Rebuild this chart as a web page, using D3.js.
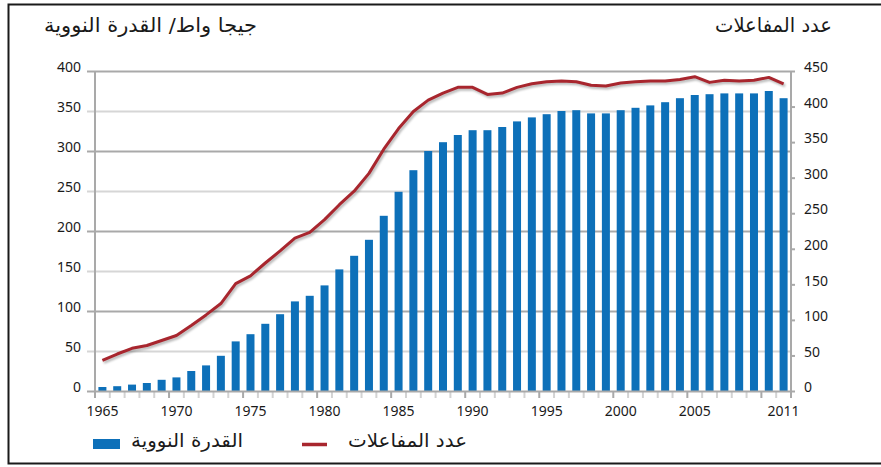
<!DOCTYPE html>
<html>
<head>
<meta charset="utf-8">
<script src="https://cdn.jsdelivr.net/npm/d3@7"></script>
<style>
  body { margin: 0; background: #fff; }
  svg { display: block; }
</style>
</head>
<body>
<script>
// chart data
var years = [1965, 1966, 1967, 1968, 1969, 1970, 1971, 1972, 1973, 1974,
  1975, 1976, 1977, 1978, 1979, 1980, 1981, 1982, 1983, 1984,
  1985, 1986, 1987, 1988, 1989, 1990, 1991, 1992, 1993, 1994,
  1995, 1996, 1997, 1998, 1999, 2000, 2001, 2002, 2003, 2004,
  2005, 2006, 2007, 2008, 2009, 2010, 2011];

// nuclear capacity, GW (left axis)
var capacity = [5, 6, 8, 10, 14, 17, 25, 32, 44, 62,
  71, 84, 96, 112, 119, 132, 152, 169, 189, 219,
  249, 276, 300, 311, 320, 326, 326, 330, 337, 342,
  346, 350, 351, 347, 347, 351, 354, 357, 361, 366,
  370, 371, 372, 372, 372, 375, 366];

// number of reactors (right axis)
var reactors = [43, 52, 60, 64, 71, 78, 92, 107, 123, 151,
  162, 180, 197, 215, 223, 241, 262, 281, 306, 340,
  369, 393, 409, 419, 427, 427, 417, 419, 427, 432,
  435, 436, 435, 430, 429, 433, 435, 436, 436, 438,
  442, 434, 437, 436, 437, 441, 432];

var leftTicks = [0, 50, 100, 150, 200, 250, 300, 350, 400];
var rightTicks = [0, 50, 100, 150, 200, 250, 300, 350, 400, 450];
var yearLabels = [1965, 1970, 1975, 1980, 1985, 1990, 1995, 2000, 2005, 2011];

var leftTitle = 'جيجا واط/ القدرة النووية';
var rightTitle = 'عدد المفاعلات';
var legendBars = 'القدرة النووية';
var legendLine = 'عدد المفاعلات';

var Chart = {

  width: 881,
  height: 467,
  plot: { left: 95, right: 791, top: 71, bottom: 391 },
  barColor: '#0d70b9',
  lineColor: '#a8262e',
  numFont: '"Noto Sans", "Open Sans", sans-serif',
  arFont: '"DejaVu Sans", sans-serif',

  svg: null,
  x: null,
  yLeft: null,
  yRight: null,

  init: function () {

    this.svg = d3.select('body').append('svg')
      .attr('width', this.width)
      .attr('height', this.height);

    this.x = d3.scaleBand()
      .domain(years)
      .range([this.plot.left, this.plot.right])
      .paddingInner(0.46)
      .paddingOuter(0.23);

    this.yLeft = d3.scaleLinear().domain([0, 400])
      .range([this.plot.bottom, this.plot.top]);

    this.yRight = d3.scaleLinear().domain([0, 450])
      .range([this.plot.bottom, this.plot.top]);

    this.drawFrame();
    this.drawGrid();
    this.drawBars();
    this.drawLine();
    this.drawAxes();
    this.drawTitles();
    this.drawLegend();
  },

  drawFrame: function () {

    this.svg.append('path')
      .attr('d', 'M881,4.5H8.5V463.5H881')
      .attr('fill', 'none')
      .attr('stroke', '#1a1a1a')
      .attr('stroke-width', 2);
  },

  drawGrid: function () {

    var self = this;
    this.svg.append('g').selectAll('line')
      .data(leftTicks.filter(function (d) { return d > 0; }))
      .join('line')
      .attr('x1', this.plot.left - 8)
      .attr('x2', this.plot.right)
      .attr('y1', function (d) { return Math.round(self.yLeft(d)) + 0.5; })
      .attr('y2', function (d) { return Math.round(self.yLeft(d)) + 0.5; })
      .attr('stroke', function (d) { return d % 100 === 0 ? '#a9a9a9' : '#d6d6d6'; })
      .attr('stroke-width', 2);
  },

  drawBars: function () {

    var self = this;
    this.svg.append('g').selectAll('rect')
      .data(capacity)
      .join('rect')
      .attr('x', function (d, i) { return self.x(years[i]); })
      .attr('width', this.x.bandwidth())
      .attr('y', function (d) { return self.yLeft(d); })
      .attr('height', function (d) { return self.yLeft(0) - self.yLeft(d); })
      .attr('fill', this.barColor);
  },

  drawLine: function () {

    var self = this;
    var half = this.x.bandwidth() / 2;

    var line = d3.line()
      .x(function (d, i) { return self.x(years[i]) + half; })
      .y(function (d) { return self.yRight(d); });

    this.svg.append('defs').append('filter').attr('id', 'blur')
      .append('feGaussianBlur').attr('stdDeviation', 1.2);

    // soft shadow under the line
    this.svg.append('path')
      .datum(reactors)
      .attr('d', line)
      .attr('transform', 'translate(1.5,2)')
      .attr('fill', 'none')
      .attr('stroke', 'rgba(0,0,0,0.28)')
      .attr('stroke-width', 3)
      .attr('filter', 'url(#blur)');

    this.svg.append('path')
      .datum(reactors)
      .attr('d', line)
      .attr('fill', 'none')
      .attr('stroke', this.lineColor)
      .attr('stroke-width', 3)
      .attr('stroke-linejoin', 'round');
  },

  drawAxes: function () {

    var self = this;
    var step = this.x.step();

    // left axis
    var left = this.svg.append('g')
      .attr('transform', 'translate(' + this.plot.left + ',0)')
      .call(d3.axisLeft(this.yLeft).tickValues(leftTicks).tickSize(0).tickPadding(14));
    left.select('.domain').remove();
    left.selectAll('text').attr('dy', '0.05em');

    // right axis
    var right = this.svg.append('g')
      .attr('transform', 'translate(' + this.plot.right + ',0)')
      .call(d3.axisRight(this.yRight).tickValues(rightTicks).tickSize(4).tickPadding(9));
    right.select('.domain').remove();
    right.selectAll('line').attr('stroke', '#a9a9a9').attr('stroke-width', 2);
    right.selectAll('text').attr('dy', '0.05em');

    [left, right].forEach(function (g) {
      g.selectAll('text')
        .attr('font-family', self.numFont)
        .attr('font-size', 14)
        .attr('fill', '#1a1a1a');
    });

    // x ticks on the band edges
    var edges = years.map(function (y) { return self.x(y) - step * 0.23; });
    this.svg.append('g').selectAll('line')
      .data(edges)
      .join('line')
      .attr('x1', function (d) { return d; })
      .attr('x2', function (d) { return d; })
      .attr('y1', this.plot.bottom)
      .attr('y2', this.plot.bottom + 7)
      .attr('stroke', function (d, i) { return (years[i] % 5 === 0) ? '#a9a9a9' : '#d3d3d3'; })
      .attr('stroke-width', 2);

    // baseline and side axes
    var ax = this.svg.append('g').attr('stroke', '#a9a9a9').attr('stroke-width', 2);
    ax.append('line')
      .attr('x1', this.plot.left - 8).attr('x2', this.plot.right)
      .attr('y1', this.plot.bottom + 0.5).attr('y2', this.plot.bottom + 0.5);
    ax.append('line')
      .attr('x1', this.plot.left).attr('x2', this.plot.left)
      .attr('y1', this.plot.top).attr('y2', this.plot.bottom + 7);
    ax.append('line')
      .attr('x1', this.plot.right).attr('x2', this.plot.right)
      .attr('y1', this.plot.top).attr('y2', this.plot.bottom + 7);

    // year labels, centred on their band
    var half = this.x.bandwidth() / 2;
    this.svg.append('g').selectAll('text')
      .data(yearLabels)
      .join('text')
      .attr('x', function (d) { return self.x(d) + half; })
      .attr('y', 416)
      .attr('text-anchor', 'middle')
      .attr('font-family', this.numFont)
      .attr('font-size', 14)
      .attr('fill', '#1a1a1a')
      .text(function (d) { return d; });
  },

  // arabic label, right edge at x, stretched to the width seen in the picture
  arabic: function (str, x, y, w, size) {

    return this.svg.append('text')
      .attr('x', x - w).attr('y', y)
      .attr('textLength', w)
      .attr('lengthAdjust', 'spacingAndGlyphs')
      .attr('font-family', this.arFont)
      .attr('font-size', size)
      .attr('fill', '#1a1a1a')
      .text(str);
  },

  drawTitles: function () {

    this.arabic(leftTitle, 257, 32, 213, 20);
    this.arabic(rightTitle, 832, 32, 117, 20);
  },

  drawLegend: function () {

    this.svg.append('rect')
      .attr('x', 93).attr('y', 439)
      .attr('width', 27).attr('height', 10)
      .attr('fill', this.barColor);

    this.arabic(legendBars, 243, 447, 112, 19);

    this.svg.append('line')
      .attr('x1', 302).attr('x2', 327)
      .attr('y1', 444.5).attr('y2', 444.5)
      .attr('stroke', this.lineColor)
      .attr('stroke-width', 3.5);

    this.arabic(legendLine, 467, 447, 119, 19);
  }
};

Chart.init();
</script>
</body>
</html>
